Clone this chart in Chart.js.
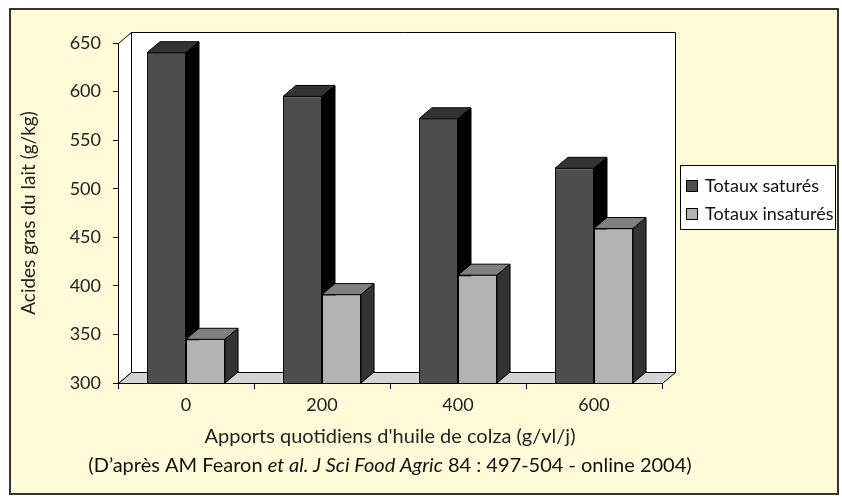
<!DOCTYPE html>
<html>
<head>
<meta charset="utf-8">
<script src="https://cdn.jsdelivr.net/npm/chart.js@4"></script>
<style>
  html, body { margin: 0; padding: 0; background: #fff; }
  #wrap { width: 842px; height: 499px; }
</style>
</head>
<body>
<div id="wrap"><canvas id="fattyAcidsChart" width="842" height="499"></canvas></div>
<script>
// Rapeseed oil doses (g/cow/day)
const doses = ['0', '200', '400', '600'];
// Milk fatty acids (g/kg)
const totauxSatures = [640, 595, 572, 521];
const totauxInsatures = [345, 391, 411, 459];
const seriesNames = ['Totaux saturés', 'Totaux insaturés'];

// y axis range
const yMin = 300;
const yMax = 650;
const yStep = 50;

// colours for front / top / side faces
const frontColors = ['#4d4d4d', '#b3b3b3'];
const topColors = ['#333333', '#808080'];
const sideColors = ['#000000', '#333333'];

// depth of the fake 3d
const DX = 13, DY = -11;
const FONT = 'Lato, "Open Sans", sans-serif';

function poly(c, pts, fill) {
    c.beginPath();
    c.moveTo(pts[0][0], pts[0][1]);
    for (let k = 1; k < pts.length; k++) c.lineTo(pts[k][0], pts[k][1]);
    c.closePath();
    c.fillStyle = fill;
    c.fill();
    c.stroke();
}

const cube3d = {
    id: 'cube3d',
    beforeDraw(chart) {
        const c = chart.ctx;
        c.save();
        c.fillStyle = '#ffffff';
        c.fillRect(0, 0, chart.width, chart.height);
        c.fillStyle = '#fffbd9';
        c.fillRect(10, 9, 828, 485);
        c.strokeStyle = '#333';
        c.lineWidth = 2;
        c.strokeRect(10, 9, 828, 485);
        c.restore();
    },
    beforeDatasetsDraw(chart) {
        const c = chart.ctx;
        const a = chart.chartArea;
        const L = Math.round(a.left) + 0.5, R = Math.round(a.right) + 0.5;
        const T = Math.round(a.top) + 0.5, B = Math.round(a.bottom) + 0.5;
        c.save();
        c.strokeStyle = '#000';
        c.lineWidth = 1;
        // back wall, left wall, floor
        poly(c, [[L + DX, T + DY], [R + DX, T + DY], [R + DX, B + DY], [L + DX, B + DY]], '#ffffff');
        poly(c, [[L, T], [L + DX, T + DY], [L + DX, B + DY], [L, B]], '#ffffff');
        poly(c, [[L, B], [L + DX, B + DY], [R + DX, B + DY], [R, B]], '#d4d4d4');
        // top and side faces of every bar, group by group
        for (let j = 0; j < doses.length; j++) {
            for (let i = 0; i < chart.data.datasets.length; i++) {
                const el = chart.getDatasetMeta(i).data[j];
                const l = el.x - el.width / 2, r = el.x + el.width / 2;
                const t = el.y, b = Math.min(el.base, a.bottom);
                poly(c, [[l, t], [l + DX, t + DY], [r + DX, t + DY], [r, t]], topColors[i]);
                poly(c, [[r, t], [r + DX, t + DY], [r + DX, b + DY], [r, b]], sideColors[i]);
            }
        }
        c.restore();
    },
    afterDraw(chart) {
        const c = chart.ctx;
        c.save();
        // legend
        c.fillStyle = '#ffffff';
        c.fillRect(680.5, 165.5, 155, 64);
        c.strokeStyle = '#000';
        c.lineWidth = 1;
        c.strokeRect(680.5, 165.5, 155, 64);
        c.font = '18px ' + FONT;
        c.textBaseline = 'middle';
        chart.data.datasets.forEach((ds, i) => {
            const y = 186 + i * 28;
            c.fillStyle = ds.backgroundColor;
            c.fillRect(686.5, y - 5.5, 11, 11);
            c.strokeRect(686.5, y - 5.5, 11, 11);
            c.fillStyle = '#111';
            c.fillText(ds.label, 705, y);
        });
        // source line, partly italic
        const parts = [
            ['(D’après AM Fearon ', 'normal'],
            ['et al. J Sci Food Agric', 'italic'],
            [' 84 : 497-504 - online 2004)', 'normal']
        ];
        let total = 0;
        parts.forEach(p => { c.font = p[1] + ' 20px ' + FONT; total += c.measureText(p[0]).width; });
        let x = (chart.chartArea.left + chart.chartArea.right) / 2 - total / 2;
        c.fillStyle = '#111';
        parts.forEach(p => {
            c.font = p[1] + ' 20px ' + FONT;
            c.fillText(p[0], x, 466);
            x += c.measureText(p[0]).width;
        });
        c.restore();
    }
};

new Chart(document.getElementById('fattyAcidsChart').getContext('2d'), {
    type: 'bar',
    data: {
        labels: doses,
        datasets: [{
            label: seriesNames[0],
            data: totauxSatures,
            backgroundColor: frontColors[0],
            borderColor: '#000',
            borderWidth: 1,
            borderSkipped: false
        }, {
            label: seriesNames[1],
            data: totauxInsatures,
            backgroundColor: frontColors[1],
            borderColor: '#000',
            borderWidth: 1,
            borderSkipped: false
        }]
    },
    options: {
        responsive: false,
        animation: false,
        events: [],
        categoryPercentage: 0.574,
        barPercentage: 1,
        layout: {
            padding: { left: 14, top: 43, right: 180, bottom: 48 }
        },
        plugins: {
            legend: { display: false },
            tooltip: { enabled: false }
        },
        scales: {
            x: {
                afterFit(scale) { scale.height = 68; },
                grid: { drawOnChartArea: false, tickLength: 6, color: '#000' },
                border: { display: true, color: '#000' },
                ticks: { color: '#222', padding: 5, font: { family: FONT, size: 18 } },
                title: {
                    display: true,
                    text: "Apports quotidiens d'huile de colza (g/vl/j)",
                    color: '#222',
                    padding: { top: 4, bottom: 2 },
                    font: { family: FONT, size: 20 }
                }
            },
            y: {
                min: yMin,
                max: yMax,
                afterFit(scale) { scale.width = 104; },
                grid: { drawOnChartArea: false, tickLength: 5, color: '#000' },
                border: { display: true, color: '#000' },
                ticks: { stepSize: yStep, color: '#222', padding: 12, font: { family: FONT, size: 18 } },
                title: {
                    display: true,
                    text: 'Acides gras du lait (g/kg)',
                    color: '#222',
                    padding: { top: 3, bottom: 4 },
                    font: { family: FONT, size: 19 }
                }
            }
        }
    },
    plugins: [cube3d]
});
</script>
</body>
</html>
